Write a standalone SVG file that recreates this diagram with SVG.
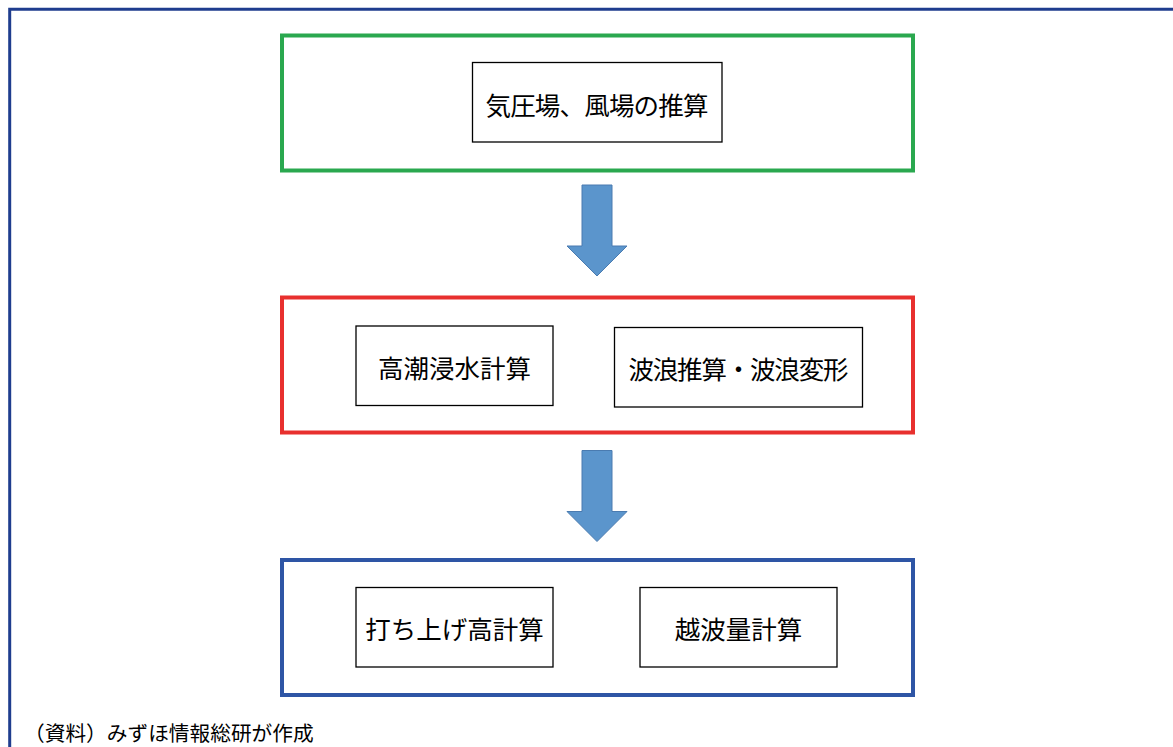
<svg xmlns="http://www.w3.org/2000/svg" width="1173" height="747" viewBox="0 0 1173 747">
<style>
.stage{fill:none;stroke-width:4}
.box{fill:#fff;stroke:#000;stroke-width:1.3}
.lbl{font-family:"Noto Sans CJK JP","Noto Sans CJK SC",sans-serif;font-size:25.5px;fill:#000;text-anchor:middle;dominant-baseline:central}
.arrow{fill:#5b95cc;stroke:#4a7bb0;stroke-width:1}
.note{font-family:"Liberation Serif","Noto Sans CJK JP",serif;font-size:20.7px;fill:#000}
</style>
<rect width="1173" height="747" fill="#fff"/>
<path d="M9.7,748 V9.3 H1175" fill="none" stroke="#1f3d8e" stroke-width="3"/>
<g id="stage1">
<rect class="stage" x="282" y="35.5" width="631" height="135" stroke="#2aa84f"/>
</g>
<g id="node-kiatsu">
<rect class="box" x="472.5" y="62.5" width="249.5" height="79.5"/>
<text class="lbl" x="597" y="103" textLength="223" lengthAdjust="spacing">気圧場、風場の推算</text>
</g>
<g id="stage2">
<rect class="stage" x="282" y="297.5" width="631" height="135" stroke="#e8302e"/>
</g>
<g id="node-takashio">
<rect class="box" x="356" y="326" width="197" height="79.5"/>
<text class="lbl" x="454.5" y="366">高潮浸水計算</text>
</g>
<g id="node-haro">
<rect class="box" x="614.5" y="327.5" width="248" height="79.5"/>
<text class="lbl" x="738.5" y="367.5" textLength="220" lengthAdjust="spacing">波浪推算・波浪変形</text>
</g>
<g id="stage3">
<rect class="stage" x="282" y="560" width="631" height="135" stroke="#2e55a5"/>
</g>
<g id="node-uchiage">
<rect class="box" x="356" y="587.5" width="197" height="79.5"/>
<text class="lbl" x="454.5" y="627.5">打ち上げ高計算</text>
</g>
<g id="node-ehaho">
<rect class="box" x="640" y="587.5" width="197" height="79.5"/>
<text class="lbl" x="738.5" y="627.5">越波量計算</text>
</g>
<g id="connectors">
<path class="arrow" d="M582,185 H612 V246 H627 L597,276 L567,246 H582 Z"/>
<path class="arrow" d="M582,450.5 H612 V511.5 H627 L597,541.5 L567,511.5 H582 Z"/>
</g>
<text class="note" x="24" y="741">（資料）みずほ情報総研が作成</text>
</svg>
